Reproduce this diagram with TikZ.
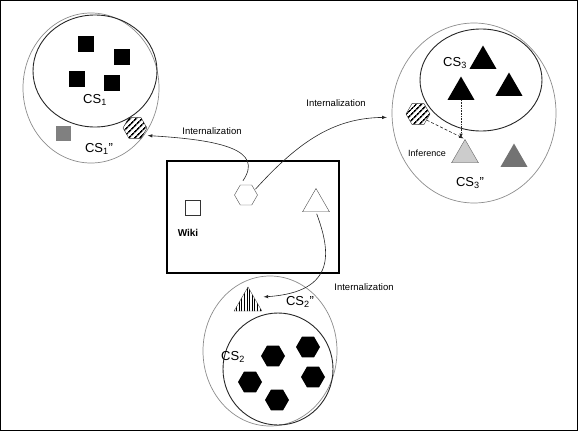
\documentclass[tikz,border=0pt]{standalone}
\usepackage{fontspec}
\setmainfont{Liberation Sans}
\usetikzlibrary{shapes.geometric, patterns.meta}

\begin{document}
\begin{tikzpicture}[x=1pt, y=-1pt, >=latex,
    outerset/.style={draw=black!45, line width=0.7pt, ellipse, inner sep=0pt},
    innerset/.style={draw=black!85, line width=0.9pt, ellipse, inner sep=0pt},
    blksq/.style={fill=black, minimum size=16pt, inner sep=0pt},
    hexa/.style={regular polygon, regular polygon sides=6, minimum size=24pt, inner sep=0pt},
    tri/.style={regular polygon, regular polygon sides=3, minimum size=31pt, inner sep=0pt},
    hatch/.style={draw=black!80, pattern={Lines[angle=45, distance=4pt, line width=1.7pt]}},
    cslabel/.style={font=\fontsize{13}{15}\selectfont},
    small/.style={font=\fontsize{9.5}{11}\selectfont},
    link/.style={->, draw=black!85, line width=0.6pt}]
    \useasboundingbox (0,0) rectangle (578,431);
    \draw[line width=1.4pt] (0.7,0.7) rectangle (577.3,430.3);

    % CS1
    \node[outerset, minimum width=136pt, minimum height=150pt] (cs1out) at (91,88) {};
    \node[innerset, minimum width=124pt, minimum height=112pt] (cs1in) at (95,71) {};
    \node[blksq] (sqA) at (86,44) {};
    \node[blksq] (sqB) at (122,57) {};
    \node[blksq] (sqC) at (77,79) {};
    \node[blksq] (sqD) at (112,83) {};
    \node[cslabel] (lcs1) at (95,100) {CS\textsubscript{1}};
    \node[fill=black!50, minimum size=15pt, inner sep=0pt] (sqGray) at (63,133) {};
    \node[hexa, hatch] (hexA) at (135,128) {};
    \node[cslabel] (lcs1b) at (99,149) {CS\textsubscript{1}''};

    % CS3
    \node[outerset, minimum width=164pt, minimum height=180pt] (cs3out) at (474,113) {};
    \node[innerset, minimum width=122pt, minimum height=102pt] (cs3in) at (481,80) {};
    \node[cslabel] (lcs3) at (455,63) {CS\textsubscript{3}};
    \node[tri, fill=black] (triA) at (483,61) {};
    \node[tri, fill=black] (triB) at (461,92) {};
    \node[tri, fill=black] (triC) at (509,88) {};
    \node[hexa, hatch] (hexB) at (418,114) {};
    \node[tri, fill=black!20, draw=black!60] (lightTri) at (465,155) {};
    \node[tri, fill=black!55] (grayTri) at (514,159) {};
    \node[font=\fontsize{9}{10}\selectfont] (linf) at (427,153) {Inference};
    \node[cslabel] (lcs3b) at (470,183) {CS\textsubscript{3}''};
    \draw[link, densely dotted, shorten >=1pt] (triB.south) -- (triB.south |- lightTri.north);
    \draw[link, densely dashed, shorten >=1.5pt] (hexB.-35) -- (lightTri.north);

    % wiki
    \node[draw, line width=1.1pt, minimum width=172pt, minimum height=112pt, inner sep=0pt] (wiki) at (253,217) {};
    \node[draw=black!80, minimum size=15pt, inner sep=0pt] (sqW) at (193,208) {};
    \node[font=\fontsize{10}{12}\selectfont\bfseries] (lwiki) at (188,233) {Wiki};
    \node[hexa, draw=black!70, minimum size=23pt] (hexW) at (246,195) {};
    \node[tri, draw=black!70] (whiteTri) at (316,204) {};

    % CS2
    \node[outerset, minimum width=134pt, minimum height=150pt] (cs2out) at (270,351) {};
    \node[innerset, minimum width=110pt, minimum height=112pt] (cs2in) at (278,369) {};
    \node[tri, minimum size=32pt, draw=black!70, pattern={Lines[angle=90, distance=2.6pt, line width=0.9pt]}] (stripTri) at (248,303) {};
    \node[cslabel] (lcs2b) at (300,302) {CS\textsubscript{2}''};
    \node[cslabel] (lcs2) at (233,357) {CS\textsubscript{2}};
    \node[hexa, fill=black] (hexC) at (273,356) {};
    \node[hexa, fill=black] (hexD) at (308,347) {};
    \node[hexa, fill=black] (hexE) at (250,382) {};
    \node[hexa, fill=black] (hexF) at (313,377) {};
    \node[hexa, fill=black] (hexG) at (277,400) {};

    % internalization
    \draw[link, shorten <=5pt, shorten >=4pt] (hexW.120) .. controls (264,150) and (222,140) .. (hexA.-40);
    \node[small] (lint1) at (212,131) {Internalization};
    \draw[link, shorten <=1pt, shorten >=5pt] (hexW.30) .. controls (300,140) and (335,118) .. (cs3out.183);
    \node[small] (lint2) at (336,103) {Internalization};
    \draw[link, shorten <=2pt, shorten >=9pt] (whiteTri.south) .. controls (330,250) and (338,292) .. (stripTri.40);
    \node[small] (lint3) at (364,287) {Internalization};
\end{tikzpicture}
\end{document}
